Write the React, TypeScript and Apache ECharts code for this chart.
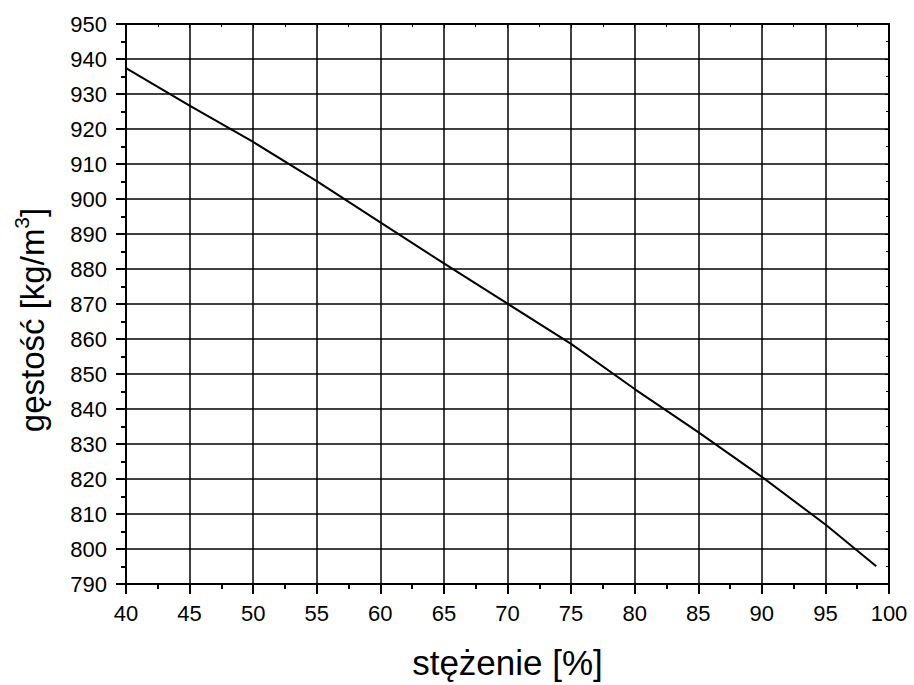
import React, { useEffect, useRef } from "react";
import * as echarts from "echarts";

const concentration = [40, 45, 50, 55, 60, 65, 70, 75, 80, 85, 90, 95, 99];
const density = [937.4, 926.7, 916.3, 905.1, 893.3, 881.6, 870.1, 858.6, 845.7, 833.4, 820.6, 807.0, 795.1];
const xTicks = { min: 40, max: 100, interval: 5 };
const yTicks = { min: 790, max: 950, interval: 10 };

const FONT = "'Liberation Sans', Arial, sans-serif";

export default function App() {
  const ref = useRef<HTMLDivElement>(null);
  useEffect(() => {
    if (!ref.current) return;
    const chart = echarts.init(ref.current, undefined, { renderer: "svg" });
    const data = concentration.map((c, i) => [c, density[i]]);
    chart.setOption({
      animation: false,
      backgroundColor: "#ffffff",
      grid: { left: 126, right: 25, top: 24, bottom: 97 },
      xAxis: [
        {
          type: "value",
          min: xTicks.min,
          max: xTicks.max,
          interval: xTicks.interval,
          name: "stężenie [%]",
          nameLocation: "middle",
          nameGap: 61,
          nameTextStyle: { fontFamily: FONT, fontSize: 35, color: "#000" },
          axisLine: { show: true, onZero: false, lineStyle: { color: "#000", width: 2 } },
          axisTick: { show: true, inside: false, length: 10, lineStyle: { color: "#000", width: 2 } },
          minorTick: { show: true, splitNumber: 2, length: 5, lineStyle: { color: "#000", width: 2 } },
          axisLabel: { fontFamily: FONT, fontSize: 22, color: "#000", margin: 18 },
          splitLine: { show: true, lineStyle: { color: "#000", width: 1.5 } },
        },
        {
          type: "value",
          position: "top",
          min: xTicks.min,
          max: xTicks.max,
          interval: xTicks.interval,
          axisLine: { show: true, onZero: false, lineStyle: { color: "#000", width: 2 } },
          axisTick: { show: true, inside: true, length: 4, lineStyle: { color: "#000", width: 1 } },
          minorTick: { show: true, splitNumber: 2, length: 3, lineStyle: { color: "#000", width: 1 } },
          axisLabel: { show: false },
          splitLine: { show: false },
        },
      ],
      yAxis: [
        {
          type: "value",
          min: yTicks.min,
          max: yTicks.max,
          interval: yTicks.interval,
          name: "gęstość [kg/m{sup|3}]",
          nameLocation: "middle",
          nameRotate: 90,
          nameGap: 72,
          nameTextStyle: {
            fontFamily: FONT,
            fontSize: 33,
            color: "#000",
            padding: [0, 32, 0, 0],
            rich: {
              sup: { fontFamily: FONT, fontSize: 21, color: "#000", padding: [0, 0, 22, 0] },
            },
          },
          axisLine: { show: true, onZero: false, lineStyle: { color: "#000", width: 2 } },
          axisTick: { show: true, inside: false, length: 10, lineStyle: { color: "#000", width: 2 } },
          minorTick: { show: true, splitNumber: 2, length: 5, lineStyle: { color: "#000", width: 2 } },
          axisLabel: { fontFamily: FONT, fontSize: 22, color: "#000", margin: 19 },
          splitLine: { show: true, lineStyle: { color: "#000", width: 1.5 } },
        },
        {
          type: "value",
          position: "right",
          min: yTicks.min,
          max: yTicks.max,
          interval: yTicks.interval,
          axisLine: { show: true, onZero: false, lineStyle: { color: "#000", width: 2 } },
          axisTick: { show: true, inside: true, length: 4, lineStyle: { color: "#000", width: 1 } },
          minorTick: { show: true, splitNumber: 2, length: 3, lineStyle: { color: "#000", width: 1 } },
          axisLabel: { show: false },
          splitLine: { show: false },
        },
      ],
      series: [
        {
          type: "line",
          data,
          xAxisIndex: 0,
          yAxisIndex: 0,
          showSymbol: false,
          symbol: "none",
          lineStyle: { color: "#000", width: 2 },
          smooth: false,
        },
      ],
    });
    return () => chart.dispose();
  }, []);
  return <div ref={ref} style={{ width: 914, height: 685, position: "absolute", left: 0, top: 0 }} />;
}
